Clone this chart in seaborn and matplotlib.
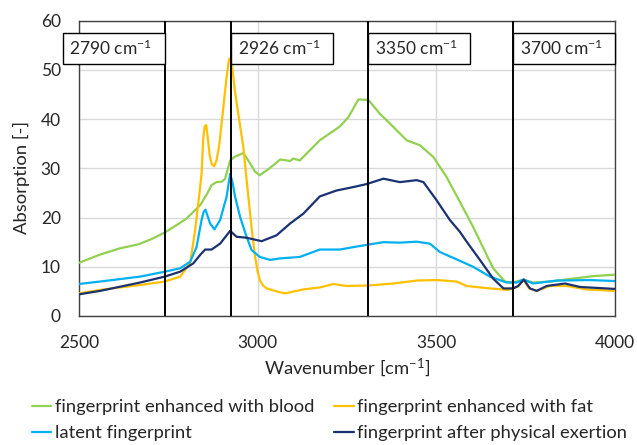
import matplotlib
matplotlib.use("Agg")
import matplotlib.pyplot as plt
import seaborn as sns
import pandas as pd
from matplotlib.patches import Rectangle

# --- spectra (wavenumber in cm^-1, absorption in arbitrary units) ---
blood_wn = [2500, 2556, 2612, 2668, 2705, 2741, 2780, 2801, 2839, 2860, 2871, 2885,
            2900, 2909, 2923, 2937, 2960, 2979, 2993, 3006, 3035, 3063, 3091, 3100,
            3118, 3137, 3174, 3230, 3254, 3282, 3310, 3342, 3380, 3417, 3454, 3492,
            3529, 3566, 3603, 3659, 3692, 3715, 3744, 3771, 3818, 3883, 3939, 4000]
blood_abs = [10.8, 12.4, 13.7, 14.6, 15.7, 17.0, 18.8, 19.8, 22.5, 25.0, 26.6, 27.2,
             27.3, 27.9, 31.6, 32.4, 33.1, 31.0, 29.3, 28.6, 30.1, 31.8, 31.5, 32.0,
             31.6, 33.0, 35.7, 38.5, 40.4, 44.0, 43.9, 41.1, 38.4, 35.7, 34.7, 32.3,
             28.2, 23.2, 18.1, 9.7, 7.0, 6.8, 7.4, 6.8, 7.0, 7.6, 8.1, 8.4]

fat_wn = [2500, 2559, 2671, 2740, 2783, 2811, 2825, 2838, 2843, 2848, 2852, 2856,
          2860, 2866, 2872, 2878, 2885, 2893, 2904, 2913, 2920, 2924, 2929, 2936,
          2943, 2960, 2970, 2979, 2986, 2993, 3000, 3006, 3015, 3025, 3063, 3077,
          3128, 3174, 3212, 3249, 3310, 3380, 3445, 3501, 3557, 3585, 3650, 3701,
          3730, 3744, 3760, 3781, 3818, 3865, 3921, 4000]
fat_abs = [4.6, 5.3, 6.3, 7.0, 8.0, 10.7, 17.4, 25.5, 28.9, 36.3, 38.6, 38.8,
           36.5, 32.5, 30.8, 30.4, 31.6, 35.0, 42.4, 48.5, 52.2, 52.3, 50.5, 46.0,
           42.4, 34.3, 27.0, 20.8, 16.0, 12.0, 9.0, 7.3, 6.2, 5.6, 4.8, 4.6,
           5.4, 5.8, 6.5, 6.1, 6.2, 6.6, 7.2, 7.3, 7.0, 6.1, 5.6, 5.3,
           6.0, 7.3, 5.6, 5.1, 6.1, 6.1, 5.4, 5.1]

latent_wn = [2500, 2559, 2671, 2740, 2783, 2811, 2829, 2843, 2849, 2854, 2860, 2867,
             2879, 2895, 2913, 2923, 2930, 2937, 2951, 2969, 2983, 3006, 3035, 3063,
             3118, 3174, 3230, 3268, 3310, 3352, 3398, 3445, 3482, 3510, 3557, 3603,
             3650, 3697, 3725, 3744, 3771, 3837, 3930, 4000]
latent_abs = [6.5, 7.0, 8.0, 9.0, 9.7, 11.0, 14.0, 19.5, 21.2, 21.6, 20.3, 18.8,
              17.6, 19.5, 24.2, 28.9, 27.0, 24.2, 20.1, 16.1, 13.4, 12.0, 11.4, 11.7,
              12.0, 13.5, 13.5, 14.0, 14.5, 15.0, 14.9, 15.1, 14.7, 13.0, 11.5, 10.0,
              8.0, 6.8, 6.8, 7.4, 6.6, 7.2, 7.3, 7.1]

exertion_wn = [2500, 2559, 2671, 2740, 2783, 2820, 2839, 2853, 2871, 2895, 2923, 2941,
               2969, 3011, 3053, 3091, 3128, 3174, 3221, 3268, 3305, 3352, 3398, 3445,
               3464, 3501, 3538, 3566, 3585, 3622, 3659, 3688, 3715, 3729, 3745, 3762,
               3781, 3809, 3860, 3902, 4000]
exertion_abs = [4.4, 5.1, 6.8, 8.0, 9.0, 10.7, 12.4, 13.5, 13.5, 14.7, 17.3, 16.1,
                15.9, 15.2, 16.4, 18.8, 20.8, 24.3, 25.5, 26.2, 26.8, 27.9, 27.2, 27.6,
                27.2, 23.5, 19.5, 17.1, 15.1, 11.4, 7.6, 5.6, 5.6, 6.1, 7.4, 5.6,
                5.1, 6.1, 6.6, 5.9, 5.5]

series_names = ["fingerprint enhanced with blood", "fingerprint enhanced with fat",
                "latent fingerprint", "fingerprint after physical exertion"]
series_colors = ["#92D050", "#FFC000", "#00B0F0", "#1B3272"]

# marked bands: label text and where the marker line sits
band_labels = ["2790", "2926", "3350", "3700"]
band_lines = [2740, 2926, 3310, 3716]

sns.set_style("white")
plt.rcParams["font.family"] = ["Lato", "DejaVu Sans"]
plt.rcParams["mathtext.fontset"] = "custom"
plt.rcParams["mathtext.rm"] = "Lato"
plt.rcParams["mathtext.it"] = "Lato:italic"
plt.rcParams["mathtext.bf"] = "Lato:bold"

FS_TICK = 12.5
FS_LABEL = 13.3
FS_LEG = 13.2
TXT = "#262626"

frames = []
for name, wn, ab in zip(series_names,
                        [blood_wn, fat_wn, latent_wn, exertion_wn],
                        [blood_abs, fat_abs, latent_abs, exertion_abs]):
    frames.append(pd.DataFrame({"wavenumber": wn, "absorption": ab, "series": name}))
df = pd.concat(frames, ignore_index=True)

fig = plt.figure(figsize=(6.37, 4.45), dpi=100)
ax = fig.add_axes([0.1240, 0.2899, 0.8414, 0.6636])

for name, color in zip(series_names, series_colors):
    sub = df[df["series"] == name]
    sns.lineplot(data=sub, x="wavenumber", y="absorption", color=color,
                 linewidth=1.6, ax=ax, label=name, zorder=3)
h, l = ax.get_legend_handles_labels()
handles = dict(zip(l, h))
ax.get_legend().remove()

ax.set_xlim(2500, 4000)
ax.set_ylim(0, 60)
ax.set_xticks([2500, 3000, 3500, 4000])
ax.set_yticks(range(0, 61, 10))
ax.grid(True, color="#D9D9D9", linewidth=1.0, zorder=0)
ax.set_axisbelow(True)
for sp in ax.spines.values():
    sp.set_color("#404040")
    sp.set_linewidth(1.0)
ax.tick_params(axis="both", length=0, labelsize=FS_TICK, labelcolor=TXT)
ax.tick_params(axis="y", pad=13)
ax.tick_params(axis="x", pad=14)

ax.set_xlabel("Wavenumber [cm$^{-1}$]", fontsize=FS_LABEL, color=TXT)
ax.set_ylabel("Absorption [-]", fontsize=FS_LABEL, color=TXT)
ax.xaxis.label.set_va("center")
ax.xaxis.set_label_coords(0.5, -0.176)
ax.yaxis.label.set_va("center")
ax.yaxis.set_label_coords(-0.108, 0.47)

# marker lines with labelled boxes
box_w = 285
box_lo, box_hi = 51.2, 57.6
for lab, xv in zip(band_labels, band_lines):
    ax.axvline(xv, color="black", linewidth=1.4, zorder=4)
    x0 = xv - box_w if xv < 2800 else xv
    x1 = min(x0 + box_w, 4000)
    ax.add_patch(Rectangle((x0, box_lo), x1 - x0, box_hi - box_lo, facecolor="white",
                           edgecolor="black", linewidth=1.0, zorder=5, clip_on=False))
    ax.text(x0 + 18, (box_lo + box_hi) / 2, f"{lab} cm$^{{-1}}$", fontsize=FS_TICK,
            color=TXT, ha="left", va="center", zorder=6, clip_on=False)

order = [0, 2, 1, 3]
fig.legend([handles[series_names[i]] for i in order],
           [series_names[i] for i in order],
           ncol=2, loc="upper left", bbox_to_anchor=(32 / 637, 1 - 399 / 445),
           frameon=False, fontsize=FS_LEG, handlelength=1.05, handletextpad=0.2,
           columnspacing=1.1, labelspacing=0.55, borderpad=0, borderaxespad=0,
           labelcolor=TXT)

fig.savefig("out.png", dpi=100)
